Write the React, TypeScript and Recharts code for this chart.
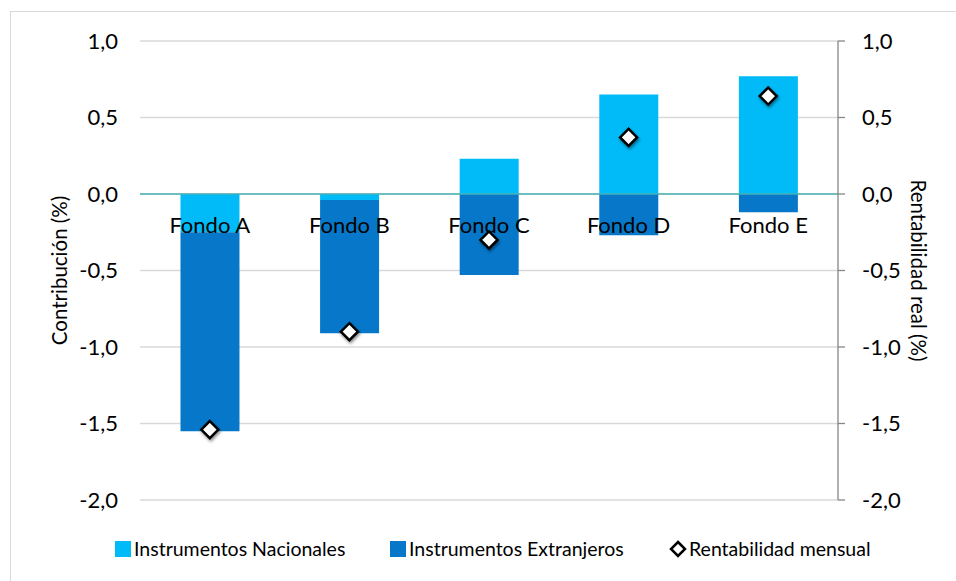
import React from 'react'
import { ComposedChart, Bar, Line, XAxis, YAxis, CartesianGrid, ReferenceLine } from 'recharts'

const fondos = ['Fondo A', 'Fondo B', 'Fondo C', 'Fondo D', 'Fondo E']
const nacionales = [-0.25, -0.04, 0.23, 0.65, 0.77]
const extranjeros = [-1.3, -0.87, -0.53, -0.27, -0.12]
const rentabilidad = [-1.54, -0.9, -0.3, 0.37, 0.64]
const yTicks = [-2, -1.5, -1, -0.5, 0, 0.5, 1]

const COLORS = { nacionales: '#00BBF7', extranjeros: '#0778C9' }
const FONT = 'Lato, "Open Sans", sans-serif'

const W = 956
const H = 581
const MARGIN = { top: 41, right: 0, bottom: 80, left: 0 }
const X_AXIS_H = 1
const PLOT_H = H - MARGIN.top - MARGIN.bottom - X_AXIS_H
const Y_MIN = -2
const Y_MAX = 1
// category labels sit just under the zero line, like Excel's crossing axis
const ZERO_Y = MARGIN.top + (PLOT_H * Y_MAX) / (Y_MAX - Y_MIN)

const data = fondos.map((fondo, i) => ({
    fondo,
    nacionales: nacionales[i],
    extranjeros: extranjeros[i],
    rentabilidad: rentabilidad[i],
}))

const fmt = (v: number) => v.toFixed(1).replace('.', ',')

const FondoTick = ({ x, payload }: any) => (
    <text x={x} y={ZERO_Y + 39} textAnchor="middle" fontSize={22} fontFamily={FONT} fill="#000">
        {payload.value}
    </text>
)

const Diamond = ({ cx, cy }: any) => {
    if (cx == null || cy == null) return null
    const r = 8.5
    return (
        <polygon
            points={`${cx},${cy - r} ${cx + r},${cy} ${cx},${cy + r} ${cx - r},${cy}`}
            fill="#fff"
            stroke="#000"
            strokeWidth={2.5}
            style={{ filter: 'drop-shadow(1.5px 2px 1.5px rgba(0,0,0,0.45))' }}
        />
    )
}

const axisTitle = (value: string, angle: number, shift: number) => ({ viewBox }: any) => {
    const x = viewBox.x + viewBox.width / 2 + shift
    const y = viewBox.y + viewBox.height / 2
    return (
        <text
            x={x}
            y={y}
            transform={`rotate(${angle}, ${x}, ${y})`}
            textAnchor="middle"
            dominantBaseline="central"
            fontSize={20.5}
            fontFamily={FONT}
            fill="#000"
        >
            {value}
        </text>
    )
}

const legendItems = [
    { name: 'Instrumentos Nacionales', kind: 'square', color: COLORS.nacionales, width: 275 },
    { name: 'Instrumentos Extranjeros', kind: 'square', color: COLORS.extranjeros, width: 279 },
    { name: 'Rentabilidad mensual', kind: 'diamond', color: '#000', width: 220 },
]

export default function App() {
    return (
        <div style={{ position: 'fixed', left: 0, top: 0, width: W, height: H, overflow: 'hidden', background: '#fff' }}>
            <div style={{ position: 'absolute', left: 10, top: 11, right: 0, bottom: 0, borderLeft: '1px solid #D9D9D9', borderTop: '1px solid #D9D9D9' }} />
            <div style={{ position: 'absolute', left: 0, top: 0 }}>
                <ComposedChart width={W} height={H} data={data} margin={MARGIN} stackOffset="sign" barCategoryGap="29%">
                    <CartesianGrid yAxisId="left" vertical={false} stroke="#D9D9D9" strokeWidth={1.3} />
                    <YAxis
                        yAxisId="left"
                        width={140}
                        domain={[Y_MIN, Y_MAX]}
                        ticks={yTicks}
                        tickFormatter={fmt}
                        axisLine={false}
                        tickLine={false}
                        tickSize={0}
                        tickMargin={22}
                        tick={{ fontSize: 22, fontFamily: FONT, fill: '#000' }}
                        label={{ content: axisTitle('Contribución (%)', -90, -11) }}
                    />
                    <YAxis
                        yAxisId="right"
                        orientation="right"
                        width={118}
                        domain={[Y_MIN, Y_MAX]}
                        ticks={yTicks}
                        tickFormatter={fmt}
                        axisLine={{ stroke: '#868686', strokeWidth: 1.3 }}
                        tickLine={{ stroke: '#868686', strokeWidth: 1.3 }}
                        tickSize={7}
                        tickMargin={17}
                        tick={{ fontSize: 22, fontFamily: FONT, fill: '#000' }}
                        label={{ content: axisTitle('Rentabilidad real (%)', 90, 22) }}
                    />
                    <Bar yAxisId="left" dataKey="nacionales" stackId="a" fill={COLORS.nacionales} isAnimationActive={false} />
                    <Bar yAxisId="left" dataKey="extranjeros" stackId="a" fill={COLORS.extranjeros} isAnimationActive={false} />
                    <ReferenceLine yAxisId="left" y={0} stroke="#47B1B5" strokeWidth={1.5} />
                    <XAxis dataKey="fondo" height={X_AXIS_H} axisLine={false} tickLine={false} tick={FondoTick} interval={0} />
                    <Line
                        yAxisId="right"
                        dataKey="rentabilidad"
                        stroke="none"
                        dot={<Diamond />}
                        activeDot={false}
                        legendType="none"
                        isAnimationActive={false}
                    />
                </ComposedChart>
            </div>
            <div style={{ position: 'absolute', left: 115, top: 537, display: 'flex', alignItems: 'center', fontFamily: FONT, fontSize: 19.5, color: '#000' }}>
                {legendItems.map(item => (
                    <div key={item.name} style={{ display: 'flex', alignItems: 'center', width: item.width }}>
                        {item.kind === 'square' ? (
                            <div style={{ width: 16, height: 16, background: item.color, marginRight: 3 }} />
                        ) : (
                            <svg width={18} height={18} style={{ marginRight: 2 }}>
                                <polygon points="9,2 16,9 9,16 2,9" fill="#fff" stroke="#000" strokeWidth={2.5} />
                            </svg>
                        )}
                        <span>{item.name}</span>
                    </div>
                ))}
            </div>
        </div>
    )
}
